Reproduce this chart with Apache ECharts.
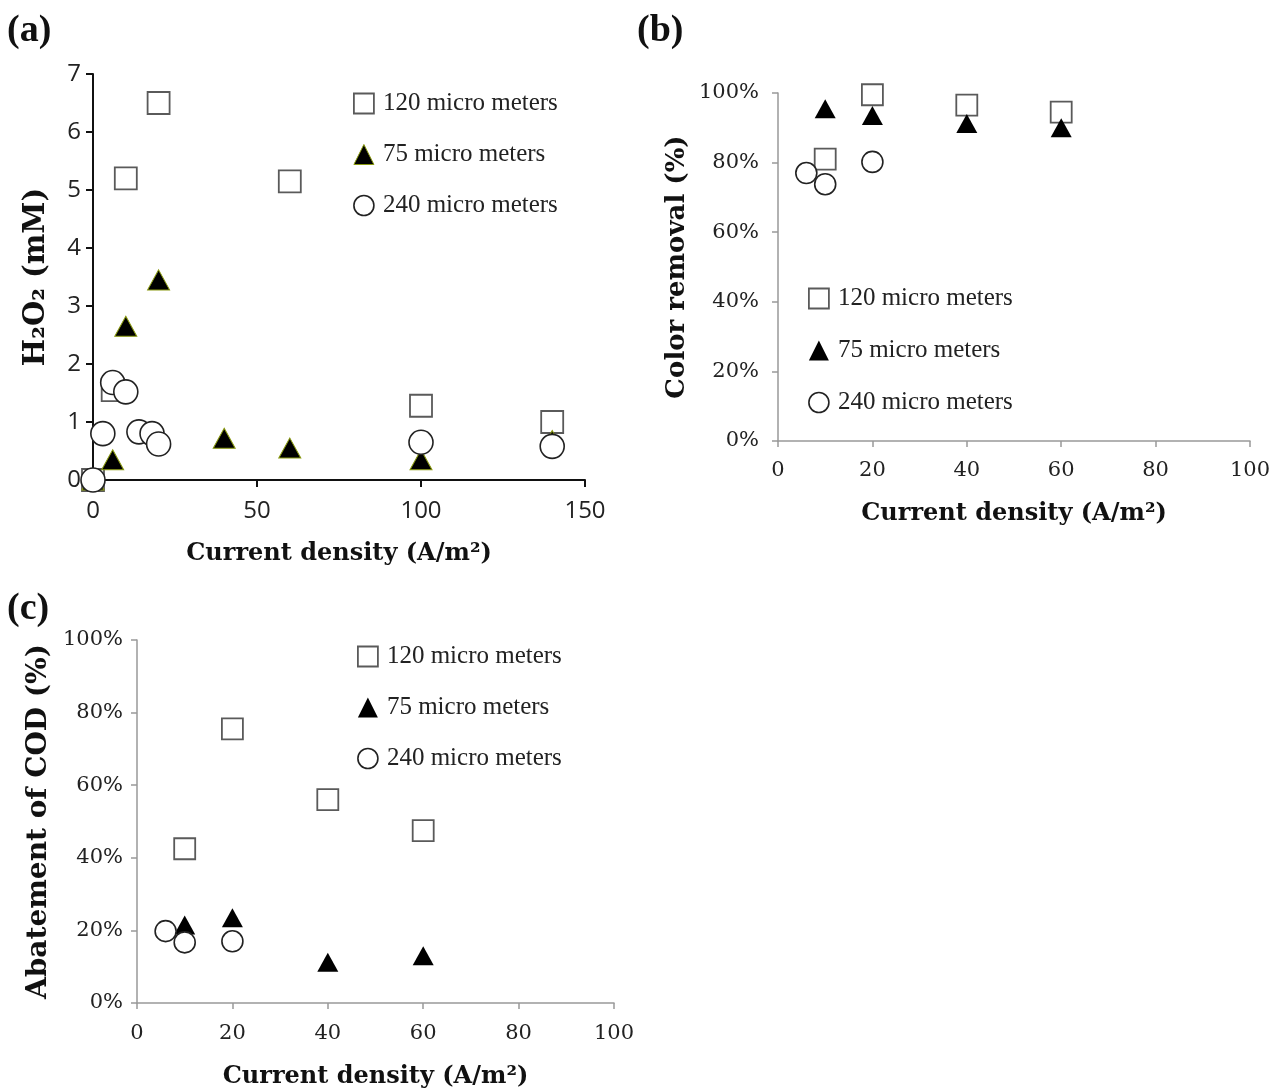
<!DOCTYPE html>
<html>
<head>
<meta charset="utf-8">
<script src="https://cdn.jsdelivr.net/npm/echarts@6/dist/echarts.min.js"></script>
<style>
html,body{margin:0;padding:0;background:#fff;}
#chart{width:1277px;height:1090px;}
</style>
</head>
<body>
<div id="chart"></div>
<script>
// ---------- DATA ----------
const seriesNames = ['120 micro meters', '75 micro meters', '240 micro meters'];

// Panel (a): H2O2 (mM) vs current density (A/m2)
const a120 = [[0, 0], [6, 1.55], [10, 5.2], [20, 6.5], [60, 5.15], [100, 1.28], [140, 1.0]];
const a75 = [[0, 0], [6, 0.35], [10, 2.65], [20, 3.45], [40, 0.72], [60, 0.55], [100, 0.35], [140, 0.68]];
const a240 = [[0, 0], [3, 0.8], [6, 1.68], [10, 1.52], [14, 0.83], [18, 0.8], [20, 0.62], [100, 0.65], [140, 0.58]];

// Panel (b): colour removal (fraction)
const b120 = [[10, 0.81], [20, 0.995], [40, 0.965], [60, 0.945]];
const b75 = [[10, 0.955], [20, 0.935], [40, 0.912], [60, 0.9]];
const b240 = [[6, 0.77], [10, 0.738], [20, 0.802]];

// Panel (c): abatement of COD (fraction)
const c120 = [[10, 0.425], [20, 0.755], [40, 0.56], [60, 0.475]];
const c75 = [[10, 0.215], [20, 0.235], [40, 0.112], [60, 0.13]];
const c240 = [[6, 0.198], [10, 0.167], [20, 0.17]];

const xNameAll = 'Current density (A/m²)';
const yNameA = 'H₂O₂ (mM)';
const yNameB = 'Color removal (%)';
const yNameC = 'Abatement of COD (%)';

// ---------- STYLE ----------
const serif = '"Liberation Serif", "Times New Roman", serif';
const wideSerif = '"DejaVu Serif", serif';
const sansA = '"Open Sans", sans-serif';
const sqStyle = {color: '#fff', borderColor: '#5a5a5a', borderWidth: 1.8, opacity: 1};
const triStyleA = {color: '#000', borderColor: '#8a9a10', borderWidth: 1, opacity: 1};
const triStyle = {color: '#000', borderColor: '#000', borderWidth: 0, opacity: 1};
const ciStyle = {color: '#fff', borderColor: '#222', borderWidth: 1.6, opacity: 1};

function xAxisCfg(gi, max, interval, blackAxis, labelFont, labelSize, nameGap, labelMargin) {
  const col = blackAxis ? '#111' : '#999';
  return {
    gridIndex: gi, type: 'value', min: 0, max: max, interval: interval,
    name: xNameAll, nameLocation: 'middle', nameGap: nameGap,
    nameTextStyle: {fontFamily: wideSerif, fontWeight: 'bold', fontSize: 24, color: '#111'},
    axisLine: {show: true, onZero: false, lineStyle: {color: col, width: blackAxis ? 2 : 1.5}},
    axisTick: {show: true, inside: false, length: blackAxis ? 7 : 6, lineStyle: {color: col, width: blackAxis ? 2 : 1.5}},
    axisLabel: {fontFamily: labelFont, fontSize: labelSize, color: '#222', margin: labelMargin},
    splitLine: {show: false}
  };
}
function yAxisCfg(gi, max, interval, blackAxis, labelFont, labelSize, name, nameSize, fmt, nameGap, labelMargin) {
  const col = blackAxis ? '#111' : '#999';
  return {
    gridIndex: gi, type: 'value', min: 0, max: max, interval: interval,
    name: name, nameLocation: 'middle', nameRotate: 90, nameGap: nameGap,
    nameTextStyle: {fontFamily: wideSerif, fontWeight: 'bold', fontSize: nameSize, color: '#111'},
    axisLine: {show: true, onZero: false, lineStyle: {color: col, width: blackAxis ? 2 : 1.5}},
    axisTick: {show: true, inside: false, length: blackAxis ? 7 : 6, lineStyle: {color: col, width: blackAxis ? 2 : 1.5}},
    axisLabel: {fontFamily: labelFont, fontSize: labelSize, color: '#222', margin: labelMargin, formatter: fmt},
    splitLine: {show: false}
  };
}
const pct = v => Math.round(v * 100) + '%';

function legendCfg(left, top, triItemStyle, gap) {
  return {
    left: left, top: top, orient: 'vertical', itemGap: gap,
    itemWidth: 20, itemHeight: 20,
    data: [
      {name: seriesNames[0], icon: 'rect', itemStyle: sqStyle},
      {name: seriesNames[1], icon: 'triangle', itemStyle: triItemStyle},
      {name: seriesNames[2], icon: 'circle', itemStyle: ciStyle}
    ],
    textStyle: {fontFamily: serif, fontSize: 25, color: '#222', padding: [0, 0, 0, 4]},
    selectedMode: false
  };
}

const chart = echarts.init(document.getElementById('chart'), null, {renderer: 'canvas'});
const option = {
  backgroundColor: '#fff',
  animation: false,
  graphic: [
    {type: 'text', left: 7, top: 12, style: {text: '(a)', font: 'bold 38px ' + serif, fill: '#111'}},
    {type: 'text', left: 637, top: 12, style: {text: '(b)', font: 'bold 38px ' + serif, fill: '#111'}},
    {type: 'text', left: 7, top: 590, style: {text: '(c)', font: 'bold 38px ' + serif, fill: '#111'}}
  ],
  grid: [
    {left: 93, top: 74, width: 492, height: 406},
    {left: 778, top: 93, width: 472, height: 348},
    {left: 137, top: 640, width: 477, height: 368}
  ],
  xAxis: [
    xAxisCfg(0, 150, 50, true, sansA, 24, 62, 19),
    xAxisCfg(1, 100, 20, false, wideSerif, 21, 61, 19),
    xAxisCfg(2, 100, 20, false, wideSerif, 21, 62, 20)
  ],
  yAxis: [
    yAxisCfg(0, 7, 1, true, sansA, 24, yNameA, 29, null, 42, 12),
    yAxisCfg(1, 1, 0.2, false, wideSerif, 21, yNameB, 26, pct, 88, 19),
    yAxisCfg(2, 1, 0.2, false, wideSerif, 21, yNameC, 28, pct, 84, 14)
  ],
  legend: [
    legendCfg(348, 86, triStyleA, 26),
    legendCfg(803, 281, triStyle, 27),
    legendCfg(352, 639, triStyle, 26)
  ],
  series: [
    {name: seriesNames[0], type: 'scatter', xAxisIndex: 0, yAxisIndex: 0, data: a120, symbol: 'rect', symbolSize: 22, itemStyle: sqStyle},
    {name: seriesNames[1], type: 'scatter', xAxisIndex: 0, yAxisIndex: 0, data: a75, symbol: 'triangle', symbolSize: [22, 20], itemStyle: triStyleA},
    {name: seriesNames[2], type: 'scatter', xAxisIndex: 0, yAxisIndex: 0, data: a240, symbol: 'circle', symbolSize: 24, itemStyle: ciStyle},

    {name: seriesNames[0], type: 'scatter', xAxisIndex: 1, yAxisIndex: 1, data: b120, symbol: 'rect', symbolSize: 21, itemStyle: sqStyle},
    {name: seriesNames[1], type: 'scatter', xAxisIndex: 1, yAxisIndex: 1, data: b75, symbol: 'triangle', symbolSize: [21, 19], itemStyle: triStyle},
    {name: seriesNames[2], type: 'scatter', xAxisIndex: 1, yAxisIndex: 1, data: b240, symbol: 'circle', symbolSize: 21, itemStyle: ciStyle},

    {name: seriesNames[0], type: 'scatter', xAxisIndex: 2, yAxisIndex: 2, data: c120, symbol: 'rect', symbolSize: 21, itemStyle: sqStyle},
    {name: seriesNames[1], type: 'scatter', xAxisIndex: 2, yAxisIndex: 2, data: c75, symbol: 'triangle', symbolSize: [21, 19], itemStyle: triStyle},
    {name: seriesNames[2], type: 'scatter', xAxisIndex: 2, yAxisIndex: 2, data: c240, symbol: 'circle', symbolSize: 21, itemStyle: ciStyle}
  ]
};
chart.setOption(option);
</script>
</body>
</html>
